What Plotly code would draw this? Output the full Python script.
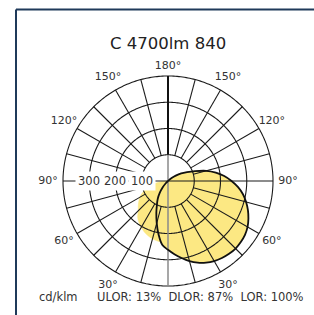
import plotly.graph_objects as go

# ---- data (cd/klm) ----
gamma = list(range(0, 185, 5))
c0 = [262, 280, 298, 316, 331, 343, 352, 358, 362, 364, 362, 358, 350, 338, 324, 308, 290, 268,
      242, 215, 185, 150, 110, 80, 58, 36, 18, 5, 0, 0, 0, 0, 0, 0, 0, 0, 0]
c180 = [262, 245, 207, 166, 130, 100, 78, 55, 32, 12, 0, 0, 0, 0, 0, 0, 0, 0,
        0, 0, 0, 0, 0, 0, 0, 0, 0, 0, 0, 0, 0, 0, 0, 0, 0, 0, 0]
c90 = [236, 235, 232, 228, 222, 214, 204, 193, 180, 160, 148, 136, 124, 108, 90, 70, 48, 24,
       0, 0, 0, 0, 0, 0, 0, 0, 0, 0, 0, 0, 0, 0, 0, 0, 0, 0, 0]
c270 = list(c90)

rings = [100, 200, 300, 400]
angle_ticks = list(range(0, 360, 15))
label_angles = [30, 60, 90, 120, 150, 180, 210, 240, 270, 300, 330]
label_texts = ["30°", "60°", "90°", "120°", "150°", "180°", "150°", "120°", "90°", "60°", "30°"]
ring_labels = ["300", "200", "100"]
title = "C 4700lm 840"
unit = "cd/klm"
ratios = "ULOR: 13%\u00a0\u00a0DLOR: 87%\u00a0\u00a0LOR: 100%"

YELLOW = "#FCE883"
FONT = "DejaVu Sans"
TXT = "#333333"

W, H = 314, 315
CX, CY, R = 168, 181, 105        # centre and outer-ring radius in px
RMAX = 460                        # radial axis range (leaves room for angle labels)
RDOM = R * RMAX / rings[-1]       # domain radius in px
LABEL_R = 457
LABEL_R_TOP = 436

fig = go.Figure()

# small lobe (C90 / C270)
th_s = gamma + [360 - g for g in reversed(gamma)]
r_s = c90 + list(reversed(c270))
fig.add_trace(go.Scatterpolar(theta=th_s, r=r_s, mode="lines", fill="toself",
                              fillcolor=YELLOW, line=dict(color=YELLOW, width=0.5, shape="spline"),
                              hoverinfo="skip", cliponaxis=False))
# big lobe (C0 / C180)
th_b = gamma + [360 - g for g in reversed(gamma)]
r_b = c0 + list(reversed(c180))
fig.add_trace(go.Scatterpolar(theta=th_b, r=r_b, mode="lines", fill="toself",
                              fillcolor=YELLOW, line=dict(color=YELLOW, width=0.5, shape="spline"),
                              hoverinfo="skip", cliponaxis=False))

GRID = "#1a1a1a"
# rings
for rv in rings:
    ths = [i * 1.0 for i in range(0, 361)]
    fig.add_trace(go.Scatterpolar(theta=ths, r=[rv] * len(ths), mode="lines",
                                  line=dict(color=GRID, width=1.1), hoverinfo="skip", cliponaxis=False))
# spokes
sth, sr = [], []
for a in angle_ticks:
    if a in (0, 90, 180, 270):
        continue
    sth += [a, a, None]
    sr += [rings[0], rings[-1], None]
fig.add_trace(go.Scatterpolar(theta=sth, r=sr, mode="lines", line=dict(color=GRID, width=1.1),
                              hoverinfo="skip", cliponaxis=False, connectgaps=False))
# horizontal axis
fig.add_trace(go.Scatterpolar(theta=[90, 90, 270], r=[rings[-1], 0, rings[-1]], mode="lines",
                              line=dict(color=GRID, width=1.1), hoverinfo="skip", cliponaxis=False))
# grey vertical
fig.add_trace(go.Scatterpolar(theta=[0, 0, 180], r=[rings[-1], 0, rings[0]], mode="lines",
                              line=dict(color="#8a8a8a", width=1.5), hoverinfo="skip", cliponaxis=False))
# black 180 spoke
fig.add_trace(go.Scatterpolar(theta=[180, 180], r=[rings[0], rings[-1]], mode="lines",
                              line=dict(color="#111111", width=2), hoverinfo="skip", cliponaxis=False))
# big lobe outline on top
fig.add_trace(go.Scatterpolar(theta=th_b, r=r_b, mode="lines",
                              line=dict(color="#111111", width=1.8, shape="spline"),
                              hoverinfo="skip", cliponaxis=False))
# angle labels
fig.add_trace(go.Scatterpolar(theta=label_angles,
                              r=[LABEL_R_TOP if a == 180 else LABEL_R for a in label_angles],
                              mode="text", text=label_texts, textposition="middle center",
                              textfont=dict(size=11, color=TXT, family=FONT),
                              hoverinfo="skip", cliponaxis=False))

fig.update_layout(
    width=W, height=H, margin=dict(l=0, r=0, t=0, b=0),
    paper_bgcolor="white", showlegend=False,
    font=dict(family=FONT, color=TXT, size=11),
    polar=dict(
        domain=dict(x=[(CX - RDOM) / W, (CX + RDOM) / W],
                    y=[(H - CY - RDOM) / H, (H - CY + RDOM) / H]),
        bgcolor="rgba(0,0,0,0)",
        radialaxis=dict(range=[0, RMAX], showticklabels=False, showgrid=False,
                        showline=False, ticks=""),
        angularaxis=dict(rotation=270, direction="counterclockwise", showgrid=False,
                         showline=False, ticks="", showticklabels=False),
    ),
)

# ring labels
for i, lab in enumerate(ring_labels):
    rv = rings[len(ring_labels) - 1 - i]
    xpx = CX - R * rv / rings[-1]
    fig.add_annotation(x=xpx / W, y=1 - CY / H, xref="paper", yref="paper", text=lab,
                       xanchor="center", yanchor="middle",
                       showarrow=False, bgcolor="white", borderpad=2,
                       font=dict(size=11.5, color=TXT, family=FONT))

fig.add_annotation(x=168 / W, y=1 - 44 / H, xref="paper", yref="paper", text=title,
                   xanchor="center", yanchor="middle",
                   showarrow=False, font=dict(size=16.5, color="#222222", family=FONT))
fig.add_annotation(x=37 / W, y=1 - 297 / H, xref="paper", yref="paper", text=unit,
                   showarrow=False, xanchor="left", yanchor="middle",
                   font=dict(size=11.5, color=TXT, family=FONT))
fig.add_annotation(x=95 / W, y=1 - 297 / H, xref="paper", yref="paper", text=ratios,
                   showarrow=False, xanchor="left", yanchor="middle",
                   font=dict(size=11.5, color=TXT, family=FONT))

BORDER = "#1F3A5A"
fig.add_shape(type="line", xref="paper", yref="paper", x0=16 / W, x1=1, y0=1 - 9.5 / H, y1=1 - 9.5 / H,
              line=dict(color=BORDER, width=2))
fig.add_shape(type="line", xref="paper", yref="paper", x0=16 / W, x1=16 / W, y0=1 - 9.5 / H, y1=0,
              line=dict(color=BORDER, width=2))

fig.write_html("out.html", config={"displayModeBar": False},
               post_script="document.body.style.margin='0';document.body.style.padding='0';")
